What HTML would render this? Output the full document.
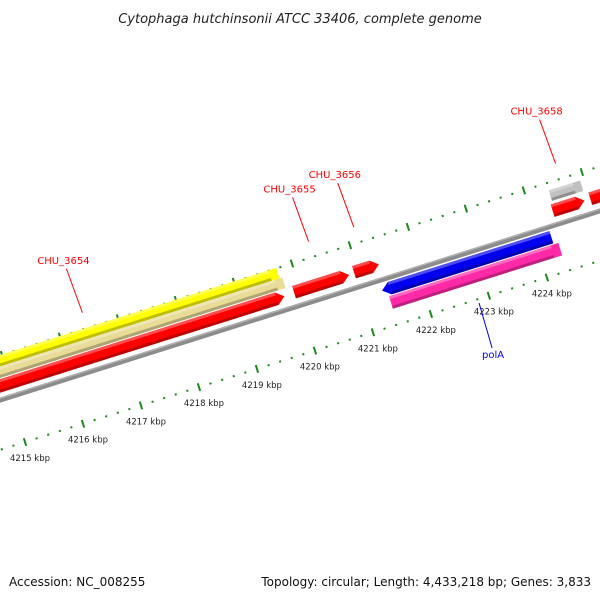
<!DOCTYPE html>
<html><head><meta charset="utf-8"><style>
html,body{margin:0;padding:0;background:#fff}
svg{display:block;font-family:"DejaVu Sans","Liberation Sans",sans-serif}
</style></head><body>
<svg id="chart" width="600" height="600" viewBox="0 0 600 600" xmlns="http://www.w3.org/2000/svg">
<text x="300" y="23" text-anchor="middle" font-size="13" font-style="italic" fill="#222">Cytophaga hutchinsonii ATCC 33406, complete genome</text>
<text x="9" y="586" font-size="12" fill="#111">Accession: NC_008255</text>
<text x="591" y="586" text-anchor="end" font-size="12" fill="#111">Topology: circular; Length: 4,433,218 bp; Genes: 3,833</text>
<g id="track" transform="translate(25,442) rotate(-17.5)"></g>
<g id="labels"></g>
</svg>
<script>
// data (kbp)
const rulerStart = 4214;
const rulerEnd = 4226;
const bottomMajors = [4215,4216,4217,4218,4219,4220,4221,4222,4223,4224];
const featNames = ["CHU_3654-misc","CHU_3654-misc2","CHU_3654","CHU_3655","CHU_3656","CHU_3658-misc","CHU_3658","CHU_3659","polA","polA-cds"];
const featStart = [4210,4210,4210,4219.96,4221.0,4224.46,4224.42,4225.07,4221.35,4221.43];
const featEnd   = [4219.80,4219.85,4219.79,4220.91,4221.43,4225.0,4224.97,4226,4224.27,4224.35];
const featTrack = [-85,-74,-61,-62,-63,-77,-62,-62,-37,-23];
const featDir   = [0,0,1,1,1,0,1,1,-1,0];
const featColor = ["#ffff00","#e8dc98","#ff0000","#ff0000","#ff0000","#c0c0c0","#ff0000","#ff0000","#0000ee","#ff2aa8"];
const labelText = ["CHU_3654","CHU_3655","CHU_3656","CHU_3658"];
const labelKbp  = [4216.54,4220.44,4221.22,4224.7];
const revLabelText = ["polA"];
const revLabelKbp = [4222.81];

const PX = 60.8, ORG = 4215, ANG = 17.5*Math.PI/180;
const ox = 25, oy = 442;
const ax = k => (k-ORG)*PX;
function toPage(k, off){
  const a = ax(k);
  return [ox + a*Math.cos(ANG) + off*Math.sin(ANG), oy - a*Math.sin(ANG) + off*Math.cos(ANG)];
}
const NS = "http://www.w3.org/2000/svg";
const g = document.getElementById("track");
const lg = document.getElementById("labels");
function mk(tag, attrs, parent){
  const e = document.createElementNS(NS, tag);
  for (const k in attrs) e.setAttribute(k, attrs[k]);
  parent.appendChild(e); return e;
}
// backbone
let bb = mk("rect", {x:ax(rulerStart), y:-50, width:ax(rulerEnd)-ax(rulerStart), height:5, fill:"#8c8c8c"}, g);


let bb2 = mk("rect", {x:ax(rulerStart), y:-50, width:ax(rulerEnd)-ax(rulerStart), height:1.5, fill:"#b0b0b0"}, g);



// rulers
function ruler(off, shift, name){
  for (let i = Math.round(rulerStart*5); i <= rulerEnd*5; i++){
    const k = i/5 + shift;
    if (i % 5 === 0){
      const t = mk("line", {x1:ax(k), x2:ax(k), y1:off-4, y2:off+4, stroke:"#1a8a1a", "stroke-width":2}, g);
      
      
    } else {
      const d = mk("rect", {x:ax(k)-1, y:off-1, width:2, height:2, fill:"#1a8a1a"}, g);
      
      
    }
  }
}
ruler(0, 0, "bottom-ruler");
ruler(-90, 0.07, "top-ruler");

// features
for (let i = 0; i < featNames.length; i++){
  const x1 = ax(featStart[i]), x2 = ax(featEnd[i]), c = featTrack[i];
  const h = (featColor[i] === "#ffff00" || featColor[i] === "#e8dc98" || featColor[i] === "#c0c0c0") ? 11 : 13;
  const y1 = c - h/2, y2 = c + h/2, tip = 8;
  let pts;
  if (featDir[i] === 1) pts = [[x1,y1],[x2-tip,y1],[x2,c],[x2-tip,y2],[x1,y2]];
  else if (featDir[i] === -1) pts = [[x1+tip,y1],[x2,y1],[x2,y2],[x1+tip,y2],[x1,c]];
  else pts = [[x1,y1],[x2,y1],[x2,y2],[x1,y2]];
  const p = mk("polygon", {points:pts.map(q=>q.join(",")).join(" "), fill:featColor[i]}, g);
  
  
  const sh = mk("rect", {x:x1+(featDir[i]===-1?tip:0), y:y2-3, width:Math.max(0,x2-x1-tip), height:3, fill:"rgba(0,0,0,0.25)"}, g);
  
  
  const hl = mk("rect", {x:x1+(featDir[i]===-1?tip:0), y:y1, width:Math.max(0,x2-x1-tip), height:3, fill:"rgba(255,255,255,0.3)"}, g);
  
  
}

// bottom ruler labels
for (const k of bottomMajors){
  const [px, py] = toPage(k, 0);
  const t = mk("text", {x:px+5, y:py+19, "text-anchor":"middle", "font-size":8.5, fill:"#222"}, lg);
  t.textContent = k + " kbp";
  
  
}
// gene labels above
for (let i = 0; i < labelText.length; i++){
  const [px, py] = toPage(labelKbp[i], -106);
  const l = mk("line", {x1:px, y1:py, x2:px-16, y2:py-44, stroke:"#ff0000", "stroke-width":1}, lg);
  
  
  const t = mk("text", {x:px-19, y:py-49, "text-anchor":"middle", "font-size":10, fill:"#ff0000"}, lg);
  t.textContent = labelText[i];
  
  
}
// labels below
for (let i = 0; i < revLabelText.length; i++){
  const [px, py] = toPage(revLabelKbp[i], 4);
  const l = mk("line", {x1:px, y1:py, x2:px+13, y2:py+45, stroke:"#0000ee", "stroke-width":1}, lg);
  
  
  const t = mk("text", {x:px+14, y:py+55, "text-anchor":"middle", "font-size":10, fill:"#0000ee"}, lg);
  t.textContent = revLabelText[i];
  
  
}
</script>
</body></html>
